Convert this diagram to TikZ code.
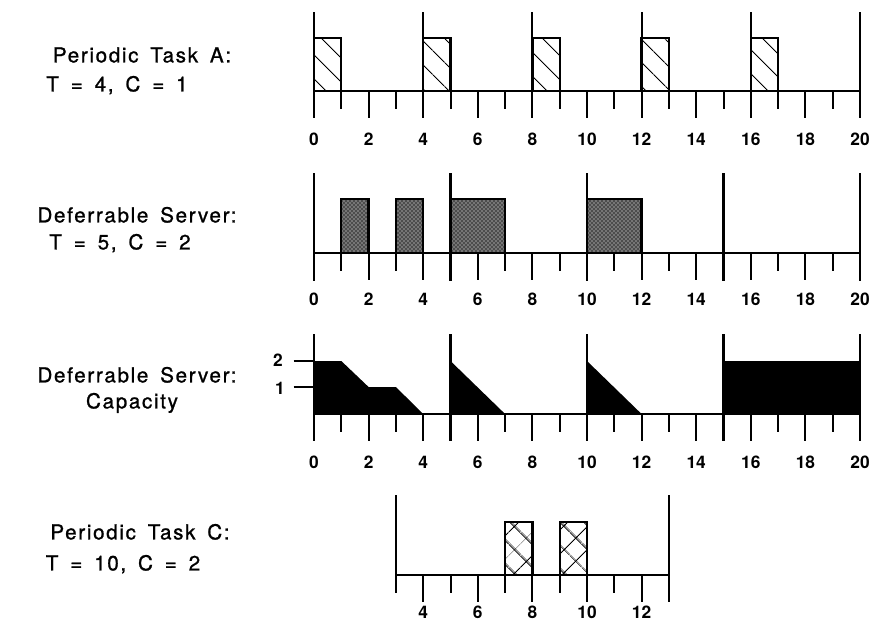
\documentclass[tikz,border=0pt]{standalone}
\usepackage{fontspec}
\setmainfont{TeX Gyre Heros}
\newfontfamily\capfont[LetterSpace=8,WordSpace=1.6,FakeBold=1]{TeX Gyre Heros}
\usetikzlibrary{patterns,patterns.meta}
\tikzset{
  axis/.style={line width=2pt},
  tck/.style={line width=1.5pt},
  ptick/.style={line width=1.6pt},
  jobA/.style={draw,line width=1.7pt,pattern={Lines[angle=-45,distance=13pt,line width=0.9pt]}},
  jobC/.style={draw,line width=1.7pt,pattern={Hatch[angle=45,distance=13pt,line width=0.9pt]}},
  jobS/.style={draw,line width=1.7pt,preaction={fill=black!70},pattern=crosshatch dots,pattern color=white},
  caption/.style={font=\capfont\fontsize{15.5}{18}\selectfont,inner sep=0pt,text height=11.1pt,text depth=0pt},
  tlab/.style={font=\bfseries\fontsize{13}{15}\selectfont,inner sep=0pt,text height=9.3pt,text depth=0pt}
}
\begin{document}
\begin{tikzpicture}[x=0.75pt,y=-0.75pt]
\useasboundingbox (0,0) rectangle (874,621);
% captions
\node[caption] (pa1) at (142,55) {Periodic Task A:};
\node[caption] (pa2) at (117,84) {T = 4, C = 1};
\node[caption] (ds1) at (137,215) {Deferrable Server:};
\node[caption] (ds2) at (120,242) {T = 5, C = 2};
\node[caption] (dc1) at (137,375) {Deferrable Server:};
\node[caption] (dc2) at (132,401) {Capacity};
\node[caption] (pc1) at (140,532) {Periodic Task C:};
\node[caption] (pc2) at (123,563) {T = 10, C = 2};
% periodic task A
\begin{scope}[shift={(314,91)},x=20.475pt]
  \foreach \t in {0,4,...,16} \draw[jobA] (\t,0) rectangle (\t+1,-53);
  \draw[axis] (0,0) -- (20,0);
  \foreach \t in {0,4,...,20} \draw[ptick] (\t,-79) -- (\t,27);
  \foreach \t in {1,3,...,19} \draw[tck] (\t,0) -- (\t,18);
  \foreach \t in {2,6,...,18} \draw[tck] (\t,0) -- (\t,27);
  \foreach \t in {0,2,...,20} \node[tlab] (la\t) at (\t,48) {\t};
\end{scope}
% deferrable server
\begin{scope}[shift={(314,253)},x=20.475pt]
  \foreach \a/\b in {1/2,3/4,5/7,10/12} \draw[jobS] (\a,0) rectangle (\b,-54);
  \draw[axis] (0,0) -- (20,0);
  \foreach \t in {0,5,...,20} \draw[ptick] (\t,-80) -- (\t,28);
  \foreach \t in {1,3,7,9,11,13,17,19} \draw[tck] (\t,0) -- (\t,18);
  \foreach \t in {2,4,6,8,12,14,16,18} \draw[tck] (\t,0) -- (\t,27);
  \foreach \t in {0,2,...,20} \node[tlab] (ls\t) at (\t,46) {\t};
\end{scope}
% server capacity
\begin{scope}[shift={(314,414)},x=20.475pt]
  \fill (0,0) -- (0,-53) -- (1,-53) -- (2,-27) -- (3,-27) -- (4,0) -- (5,0) -- (5,-53)
    -- (7,0) -- (10,0) -- (10,-53) -- (12,0) -- (15,0) -- (15,-53) -- (20,-53) -- (20,0) -- cycle;
  \draw[axis] (0,0) -- (20,0);
  \draw[axis] (-0.75,-53) -- (0,-53);
  \draw[axis] (-0.75,-27) -- (0,-27);
  \node[tlab] (lv2) at (-1.32,-54) {2};
  \node[tlab] (lv1) at (-1.25,-26) {1};
  \foreach \t in {0,5,...,20} \draw[ptick] (\t,-80) -- (\t,27);
  \foreach \t in {1,3,7,9,11,13,17,19} \draw[tck] (\t,0) -- (\t,18);
  \foreach \t in {2,4,6,8,12,14,16,18} \draw[tck] (\t,0) -- (\t,27);
  \foreach \t in {0,2,...,20} \node[tlab] (lc\t) at (\t,48) {\t};
\end{scope}
% periodic task C
\begin{scope}[shift={(314,575)},x=20.475pt]
  \foreach \t in {7,9} \draw[jobC] (\t,0) rectangle (\t+1,-53);
  \draw[axis] (3,0) -- (13,0);
  \draw[ptick] (3,-80) -- (3,18);
  \draw[ptick] (13,-80) -- (13,27);
  \foreach \t in {5,7,9,11} \draw[tck] (\t,0) -- (\t,18);
  \foreach \t in {4,6,...,12} \draw[tck] (\t,0) -- (\t,27);
  \foreach \t in {4,6,...,12} \node[tlab] (lp\t) at (\t,37) {\t};
\end{scope}
\end{tikzpicture}
\end{document}
